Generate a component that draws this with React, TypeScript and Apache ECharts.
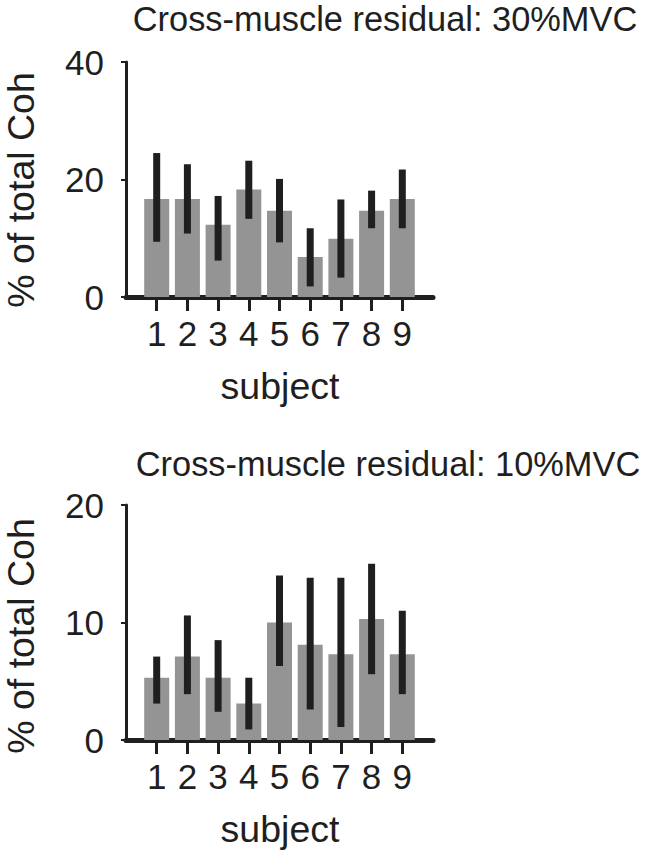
import React, { useEffect, useRef } from "react";
import * as echarts from "echarts";

const subjects = ["1", "2", "3", "4", "5", "6", "7", "8", "9"];

const title30 = "Cross-muscle residual: 30%MVC";
const mean30 = [16.7, 16.7, 12.3, 18.3, 14.7, 6.8, 9.9, 14.7, 16.7];
const low30 = [9.4, 10.8, 6.2, 13.3, 9.3, 1.8, 3.3, 11.7, 11.7];
const high30 = [24.5, 22.6, 17.2, 23.2, 20.1, 11.7, 16.6, 18.1, 21.7];

const title10 = "Cross-muscle residual: 10%MVC";
const mean10 = [5.3, 7.1, 5.3, 3.1, 10.0, 8.1, 7.3, 10.3, 7.3];
const low10 = [3.1, 3.9, 2.4, 0.9, 6.3, 2.6, 1.1, 5.6, 3.9];
const high10 = [7.1, 10.6, 8.5, 5.3, 14.0, 13.8, 13.8, 15.0, 11.0];

const yMax = [40, 20];
const yStep = [20, 10];
const yName = "% of total Coh";
const xName = "subject";

const FONT = "'Liberation Sans', Arial, sans-serif";
const INK = "#1f1f1f";
const BAR = "#949494";

export default function App() {
  const ref = useRef<HTMLDivElement>(null);
  useEffect(() => {
    if (!ref.current) return;
    const chart = echarts.init(ref.current, null, { renderer: "svg" });
    const cats = ["", ...subjects, ""];
    const grids = [
      { left: 126, top: 62, width: 307, height: 235 },
      { left: 126, top: 505, width: 307, height: 235 },
    ];
    const mk = (gi: number) => ({
      gridIndex: gi,
      type: "category",
      data: cats,
      boundaryGap: false,
      axisLine: { show: true, lineStyle: { color: INK, width: 5 } },
      axisTick: {
        show: true,
        length: 14,
        interval: (i: number) => i > 0 && i < cats.length - 1,
        lineStyle: { color: INK, width: 3 },
      },
      axisLabel: { interval: 0, fontSize: 35, color: INK, fontFamily: FONT, margin: 19 },
      splitLine: { show: false },
    });
    const mky = (gi: number) => ({
      gridIndex: gi,
      type: "value",
      min: 0,
      max: yMax[gi],
      interval: yStep[gi],
      axisLine: { show: true, lineStyle: { color: INK, width: 3 } },
      axisTick: { show: true, length: 5, lineStyle: { color: INK, width: 2 } },
      axisLabel: { fontSize: 35, color: INK, fontFamily: FONT, margin: 22 },
      splitLine: { show: false },
    });
    const errSeries = (gi: number, lo: number[], hi: number[]) => ({
      type: "custom",
      xAxisIndex: gi,
      yAxisIndex: gi,
      z: 5,
      data: subjects.map((_, i) => [i + 1, lo[i], hi[i]]),
      encode: { x: 0, y: [1, 2] },
      renderItem: (params: any, api: any) => {
        const x = api.value(0);
        const p1 = api.coord([x, api.value(2)]);
        const p2 = api.coord([x, api.value(1)]);
        const w = 7;
        return {
          type: "rect",
          shape: { x: p1[0] - w / 2, y: p1[1], width: w, height: p2[1] - p1[1] },
          style: { fill: INK },
        };
      },
    });
    const barSeries = (gi: number, vals: number[]) => ({
      type: "bar",
      xAxisIndex: gi,
      yAxisIndex: gi,
      barWidth: 25,
      itemStyle: { color: BAR },
      data: ["-", ...vals, "-"],
    });
    const txt = (text: string, x: number, y: number, size: number, rot = 0) => ({
      type: "text",
      x,
      y,
      rotation: rot,
      style: {
        text,
        fontSize: size,
        fontFamily: FONT,
        fill: INK,
        align: "center",
        verticalAlign: "middle",
      },
    });
    chart.setOption({
      animation: false,
      backgroundColor: "#ffffff",
      grid: grids,
      xAxis: [mk(0), mk(1)],
      yAxis: [mky(0), mky(1)],
      series: [
        barSeries(0, mean30),
        errSeries(0, low30, high30),
        barSeries(1, mean10),
        errSeries(1, low10, high10),
      ],
      graphic: [
        txt(title30, 385, 19, 34.4),
        txt(title10, 388, 464, 34.4),
        txt(yName, 21, 190, 37.5, Math.PI / 2),
        txt(yName, 21, 636, 37.5, Math.PI / 2),
        txt(xName, 280, 386, 37.5),
        txt(xName, 280, 829, 37.5),
      ],
    });
    return () => chart.dispose();
  }, []);
  return (
    <div
      ref={ref}
      style={{ position: "absolute", left: 0, top: 0, width: 647, height: 853 }}
    />
  );
}
